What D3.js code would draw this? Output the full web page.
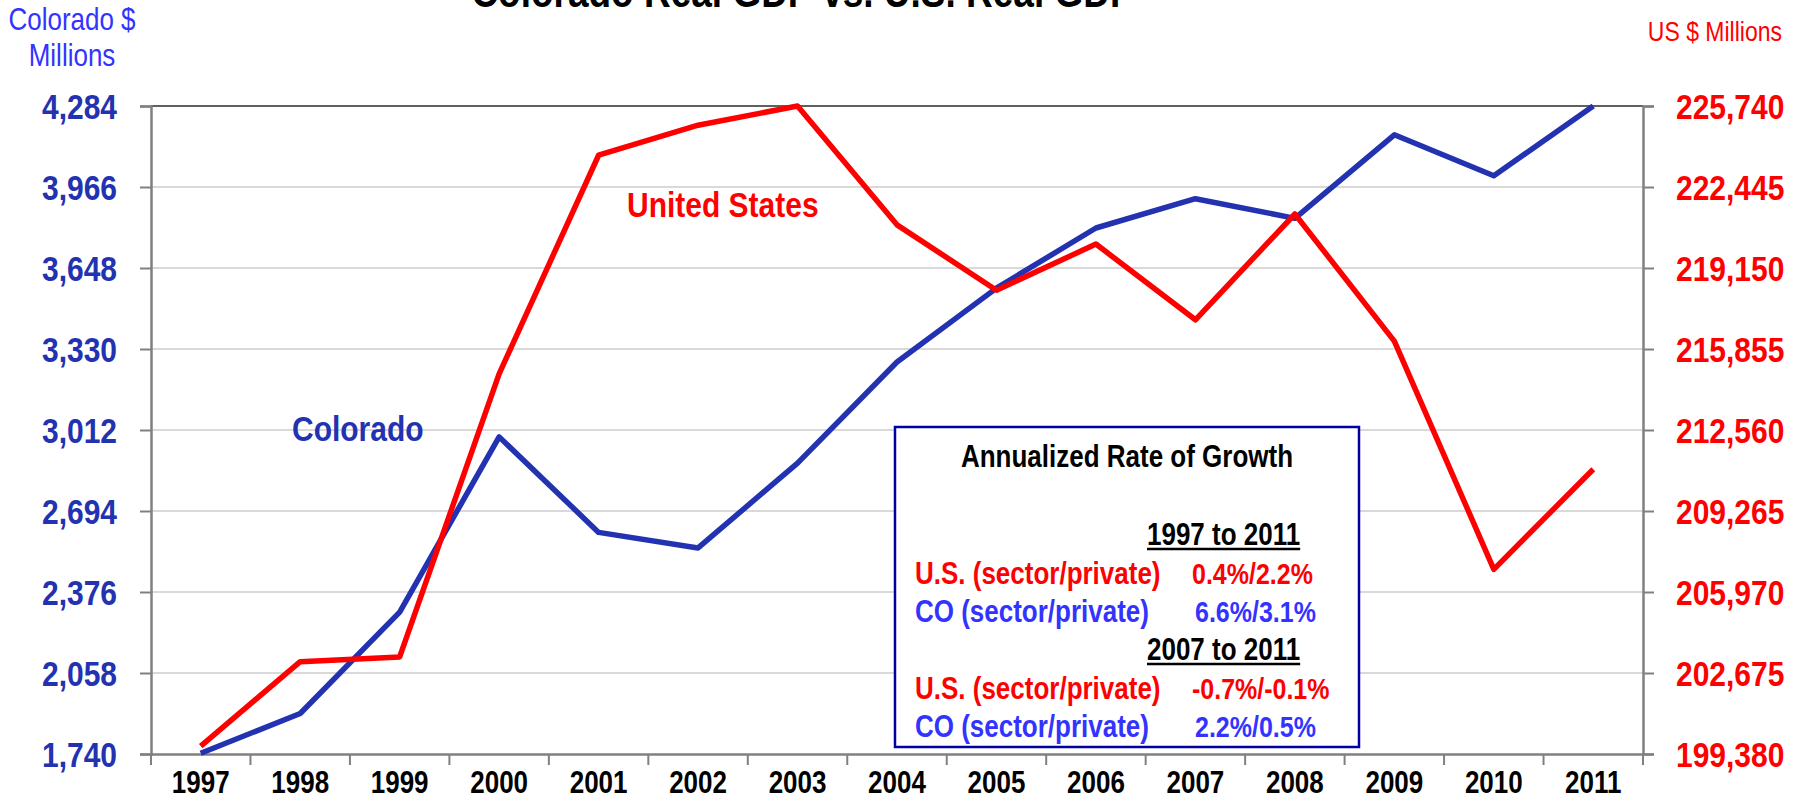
<!DOCTYPE html>
<html>
<head>
<meta charset="utf-8">
<script src="https://cdn.jsdelivr.net/npm/d3@7/dist/d3.min.js"></script>
<style>
  body { margin: 0; background: #fff; }
  svg { display: block; font-family: 'Liberation Sans', Arial, sans-serif; }
</style>
</head>
<body>
<div id="chart"></div>
<script>
// 数据
const years = ['1997', '1998', '1999', '2000', '2001', '2002', '2003', '2004', '2005', '2006', '2007', '2008', '2009', '2010', '2011']
const coloradoGDP = [1743, 1899, 2297, 2985, 2610, 2549, 2882, 3279, 3569, 3805, 3920, 3843, 4171, 4010, 4284]
const usGDP = [199699, 203135, 203330, 214844, 223737, 224960, 225740, 220905, 218247, 220124, 217043, 221347, 216174, 206891, 210965]
const coTicks = [1740, 2058, 2376, 2694, 3012, 3330, 3648, 3966, 4284]
const usTicks = [199380, 202675, 205970, 209265, 212560, 215855, 219150, 222445, 225740]
const periods = ['1997 to 2011', '2007 to 2011']
const usGrowth = ['0.4%/2.2%', '-0.7%/-0.1%']
const coGrowth = ['6.6%/3.1%', '2.2%/0.5%']

const width = 1798
const height = 799
const plotLeft = 151
const plotRight = 1643
const plotTop = 106
const plotBottom = 754
// 文字纵向拉伸
const k = 1.18

const blue = '#2232b0'
const lightBlue = '#3333ff'
const red = '#ff0000'

let svg = d3.select('#chart').append('svg')
  .attr('width', width)
  .attr('height', height)

function txt (g, x, y, s, size, color, weight, anchor) {
  return g.append('text')
    .attr('transform', 'translate(' + x + ',' + y + ') scale(1,' + k + ')')
    .attr('font-size', size)
    .attr('font-weight', weight || 'normal')
    .attr('fill', color)
    .attr('text-anchor', anchor || 'start')
    .text(s)
}

// 比例尺
let x = d3.scaleBand().domain(years).range([plotLeft, plotRight])
let yL = d3.scaleLinear().domain([coTicks[0], coTicks[coTicks.length - 1]]).range([plotBottom, plotTop])
let yR = d3.scaleLinear().domain([usTicks[0], usTicks[usTicks.length - 1]]).range([plotBottom, plotTop])

// 网格线
svg.append('g')
  .selectAll('line')
  .data(coTicks.slice(1, -1))
  .enter()
  .append('line')
  .attr('x1', plotLeft)
  .attr('x2', plotRight)
  .attr('y1', d => yL(d))
  .attr('y2', d => yL(d))
  .attr('stroke', '#d9d9d9')
  .attr('stroke-width', 2)

// 顶部边框
svg.append('line')
  .attr('x1', plotLeft).attr('x2', plotRight)
  .attr('y1', plotTop).attr('y2', plotTop)
  .attr('stroke', '#606060').attr('stroke-width', 2)

// 坐标轴
let axisL = svg.append('g')
  .attr('transform', 'translate(' + plotLeft + ',0)')
  .call(d3.axisLeft(yL).tickValues(coTicks).tickFormat(d3.format(',')).tickSize(11).tickPadding(23))
let axisR = svg.append('g')
  .attr('transform', 'translate(' + plotRight + ',0)')
  .call(d3.axisRight(yR).tickValues(usTicks).tickFormat(d3.format(',')).tickSize(11).tickPadding(22))
let axisB = svg.append('g')
  .attr('transform', 'translate(0,' + plotBottom + ')')
  .call(d3.axisBottom(x).tickSize(0).tickPadding(0))

// 底部刻度在分类之间
axisB.selectAll('.tick line').remove()
axisB.append('g')
  .selectAll('line')
  .data(years.map(d => x(d)).concat([plotRight]))
  .enter()
  .append('line')
  .attr('x1', d => d).attr('x2', d => d)
  .attr('y1', 0).attr('y2', 11)
  .attr('stroke', '#808080').attr('stroke-width', 2)

;[axisL, axisR, axisB].forEach(a => {
  a.select('.domain').attr('stroke', '#808080').attr('stroke-width', 2.5)
  a.selectAll('.tick line').attr('stroke', '#808080').attr('stroke-width', 2)
  a.selectAll('text').attr('font-family', null).attr('font-weight', 'bold')
})
axisL.selectAll('text').attr('font-size', 30).attr('fill', blue).attr('dy', '0.36em').attr('transform', 'scale(1,' + k + ')')
axisR.selectAll('text').attr('font-size', 30).attr('fill', red).attr('dy', '0.36em').attr('transform', 'scale(1,' + k + ')')
axisB.selectAll('.tick text').attr('font-size', 26).attr('fill', '#000').attr('y', 39 / k).attr('dy', 0).attr('transform', 'scale(1,' + k + ')')

// 折线
let lineCO = d3.line()
  .x((d, i) => x(years[i]) + x.bandwidth() / 2)
  .y(d => yL(d))
let lineUS = d3.line()
  .x((d, i) => x(years[i]) + x.bandwidth() / 2)
  .y(d => yR(d))

svg.append('path')
  .datum(coloradoGDP)
  .attr('d', lineCO)
  .attr('fill', 'none')
  .attr('stroke', blue)
  .attr('stroke-width', 5.5)
  .attr('stroke-linejoin', 'round')
svg.append('path')
  .datum(usGDP)
  .attr('d', lineUS)
  .attr('fill', 'none')
  .attr('stroke', red)
  .attr('stroke-width', 5.5)
  .attr('stroke-linejoin', 'round')

// 标题和轴标题
txt(svg, 803, 7, 'Colorado Real GDP vs. U.S. Real GDP', 37, '#000', 'bold', 'middle')
txt(svg, 72, 30, 'Colorado $', 26, lightBlue, 'normal', 'middle')
txt(svg, 72, 66, 'Millions', 26, lightBlue, 'normal', 'middle')
txt(svg, 1782, 41, 'US $ Millions', 23, red, 'normal', 'end')

// 系列标签
txt(svg, 292, 441, 'Colorado', 30, blue, 'bold')
txt(svg, 627, 217, 'United States', 30, red, 'bold')

// 增长率表格
let box = svg.append('g')
box.append('rect')
  .attr('x', 895).attr('y', 427)
  .attr('width', 464).attr('height', 320)
  .attr('fill', '#fff')
  .attr('stroke', '#0000a0')
  .attr('stroke-width', 2.5)
txt(box, 1127, 467, 'Annualized Rate of Growth', 26, '#000', 'bold', 'middle')

periods.forEach((p, i) => {
  let y0 = 545 + i * 115
  let h = txt(box, 1147, y0, p, 26, '#000', 'bold')
  let w = h.node().getComputedTextLength()
  box.append('line')
    .attr('x1', 1147).attr('x2', 1147 + w)
    .attr('y1', y0 + 4).attr('y2', y0 + 4)
    .attr('stroke', '#000').attr('stroke-width', 2.5)
  txt(box, 915, y0 + 39, 'U.S. (sector/private)', 26, red, 'bold')
  txt(box, 1192, y0 + 39, usGrowth[i], 25, red, 'bold')
  txt(box, 915, y0 + 77, 'CO (sector/private)', 26, lightBlue, 'bold')
  txt(box, 1195, y0 + 77, coGrowth[i], 25, lightBlue, 'bold')
})
</script>
</body>
</html>
